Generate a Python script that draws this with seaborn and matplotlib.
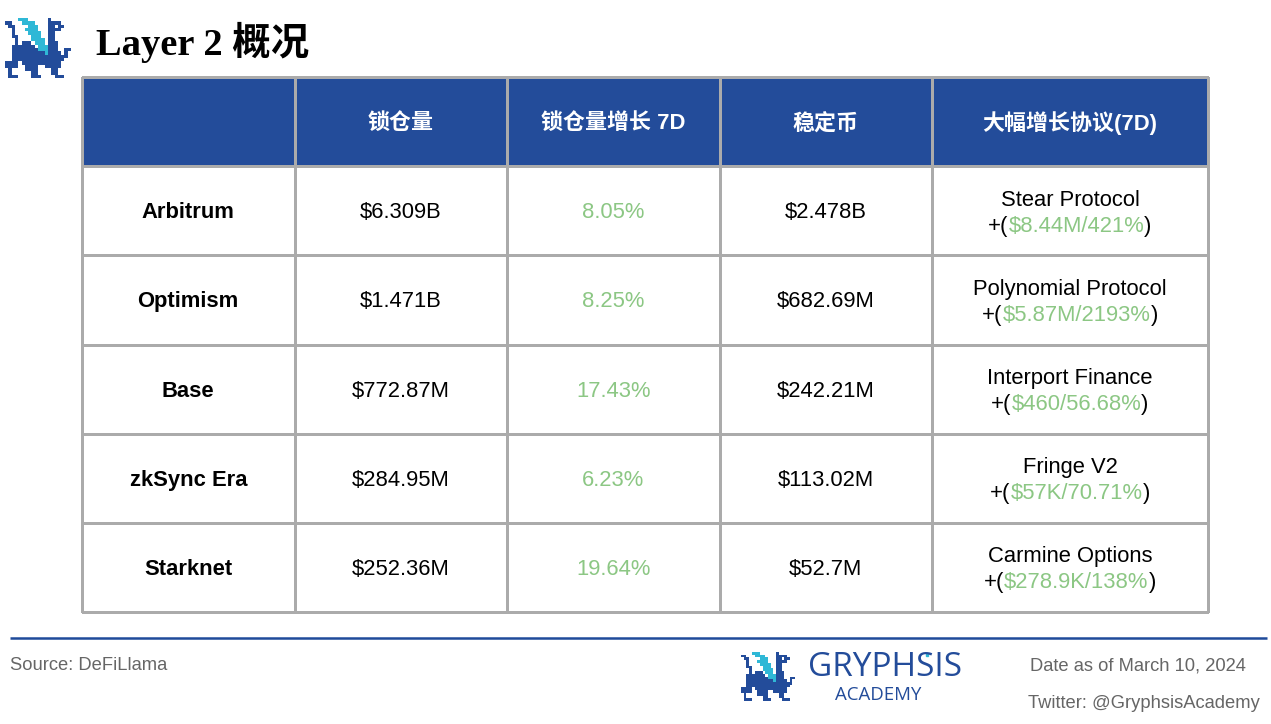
import numpy as np
import matplotlib
matplotlib.use("Agg")
import matplotlib.pyplot as plt
from matplotlib.colors import ListedColormap
import seaborn as sns

W, H = 1271, 724
BLUE = "#234c9a"
GRID = "#ababab"
GREEN = "#8cc784"
GREY = "#666666"
SANS = ["Liberation Sans", "Noto Sans CJK SC"]
NUDGE = 0.022  # text sits a little below the cell centre

sns.set_theme(style="white")
plt.rcParams["font.family"] = SANS

# table content
headers = ["", "锁仓量", "锁仓量增长 7D", "稳定币", "大幅增长协议(7D)"]
chains = ["Arbitrum", "Optimism", "Base", "zkSync Era", "Starknet"]
tvl = ["$6.309B", "$1.471B", "$772.87M", "$284.95M", "$252.36M"]
tvl_growth = ["8.05%", "8.25%", "17.43%", "6.23%", "19.64%"]
stables = ["$2.478B", "$682.69M", "$242.21M", "$113.02M", "$52.7M"]
protocols = ["Stear Protocol", "Polynomial Protocol", "Interport Finance", "Fringe V2", "Carmine Options"]
protocol_growth = ["$8.44M/421%", "$5.87M/2193%", "$460/56.68%", "$57K/70.71%", "$278.9K/138%"]

# logo pixels
logo = [
    "....CCC......B......",
    "BB...CCCC....BBBB...",
    ".BB....CCC...BB.BB..",
    "..B...CCCC...BBBB...",
    "..B....CCCC..BB.....",
    "..BB....CCC..BB.....",
    "...B....CCCC.BB.....",
    "...B.BBB.CCC.BBB....",
    "..BBBBBBB.CCCBBB....",
    "..BBBBBBBBCCCBBB..BB",
    "..BBBBBBBBBBCBBBB.B.",
    "..BBBBBBBBBBBBBBBBB.",
    "..BBBBBBBBBBBBBBBB..",
    "BBBB.BBBBBBBBBBBB...",
    "BBBB..BBBB..BBBBB...",
    ".B....BBBB....BB....",
    ".B......BB....BB....",
    ".BBB....BBB....BBB..",
]


def px_axes(fig, x0, y0, x1, y1):
    return fig.add_axes([x0 / W, 1 - y1 / H, (x1 - x0) / W, (y1 - y0) / H])


def draw_logo(fig, x0, y0, x1, y1):
    ax = px_axes(fig, x0, y0, x1, y1)
    codes = {".": 0, "B": 1, "C": 2}
    grid = np.array([[codes[c] for c in row] for row in logo])
    sns.heatmap(grid, ax=ax, cmap=ListedColormap(["white", BLUE, "#2fb8d6"]),
                vmin=0, vmax=2, cbar=False, xticklabels=False, yticklabels=False)
    ax.axis("off")


def draw_table_block(ax, rows, annot):
    sns.heatmap(rows, ax=ax, cmap=ListedColormap([BLUE, "white"]), vmin=0, vmax=1,
                cbar=False, linewidths=0.75, linecolor=GRID, annot=annot, fmt="",
                annot_kws={"fontsize": 15.8, "color": "black"},
                xticklabels=False, yticklabels=False)
    ax.collections[0].set_clip_on(False)
    for t in ax.texts:
        t.set_y(t.get_position()[1] + NUDGE)


fig = plt.figure(figsize=(W / 100, H / 100), dpi=100, facecolor="white")

# left part of the table: four equal columns
left = px_axes(fig, 82, 77, 932, 612)
fill_left = np.ones((6, 4))
fill_left[0, :] = 0
annot_left = np.array([headers[:4]] + [list(r) for r in zip(chains, tvl, tvl_growth, stables)], dtype=object)
draw_table_block(left, fill_left, annot_left)
for i, t in enumerate(left.texts):
    row, col = divmod(i, 4)
    if row == 0:
        t.set_color("white")
        t.set_fontweight("bold")
    elif col == 0:
        t.set_fontweight("bold")
    elif col == 2:
        t.set_color(GREEN)

# last column is wider
right = px_axes(fig, 932, 77, 1208, 612)
fill_right = np.ones((6, 1))
fill_right[0, 0] = 0
annot_right = np.array([[headers[4]]] + [[""] for _ in protocols], dtype=object)
draw_table_block(right, fill_right, annot_right)
right.texts[0].set_color("white")
right.texts[0].set_fontweight("bold")

renderer = fig.canvas.get_renderer()
for i, (name, growth) in enumerate(zip(protocols, protocol_growth)):
    yc = i + 1.5 + NUDGE
    right.text(0.5, yc - 0.14, name, ha="center", va="center", fontsize=15.8, color="black")
    # three coloured pieces centred together
    parts = [("+(", "black"), (growth, GREEN), (")", "black")]
    drawn = [right.text(0, yc + 0.15, s, ha="left", va="center", fontsize=15.8, color=c) for s, c in parts]
    widths = [d.get_window_extent(renderer).width for d in drawn]
    xpos = 0.5 - sum(widths) / 276 / 2
    for d, w in zip(drawn, widths):
        d.set_x(xpos)
        xpos += w / 276

# page furniture in pixel coordinates
page = fig.add_axes([0, 0, 1, 1], facecolor="none")
page.set_xlim(0, W)
page.set_ylim(H, 0)
page.axis("off")
page.text(96, 42, "Layer 2 概况", fontsize=27.7, fontweight="bold", va="center", color="black",
          family=["Liberation Serif", "Noto Sans CJK SC"])
page.plot([10, 1267], [638, 638], color="#1f4a9a", lw=1.8, solid_capstyle="butt")
page.text(10, 666, "Source: DeFiLlama", fontsize=13.2, color=GREY, va="center")
page.text(1030, 666, "Date as of March 10, 2024", fontsize=13.25, color=GREY, va="center")
page.text(1028, 704, "Twitter: @GryphsisAcademy", fontsize=13.2, color=GREY, va="center")
page.text(885, 668, "GRYPHSIS", fontsize=24, color=BLUE, ha="center", va="center", family="Open Sans")
page.text(878, 695, "ACADEMY", fontsize=13.4, color=BLUE, ha="center", va="center", family="Open Sans")
page.plot([927], [655], marker="s", ms=2, color="#2fb8d6", ls="none")

draw_logo(fig, 5, 18, 71, 78)
draw_logo(fig, 741, 652, 795, 701)

fig.savefig("out.png", dpi=100)
